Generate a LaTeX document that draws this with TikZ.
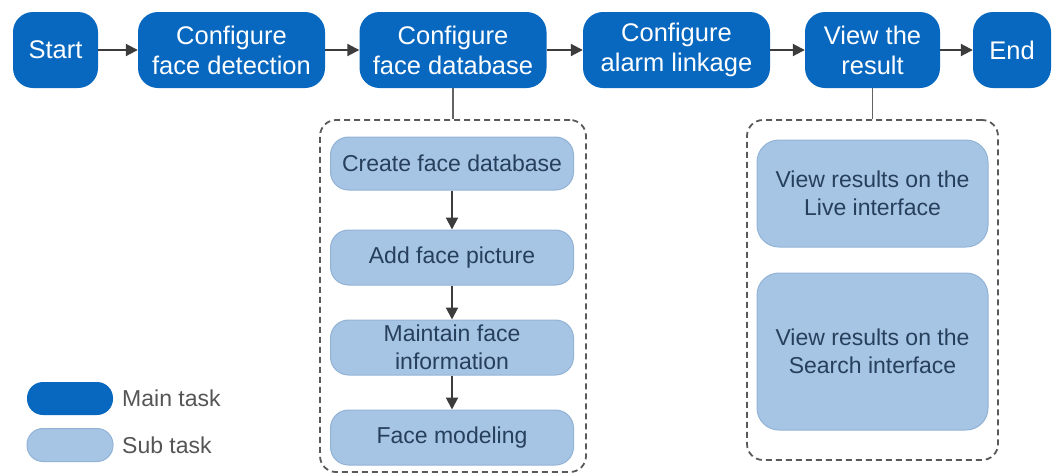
\documentclass[tikz,border=0pt]{standalone}
\usepackage{fontspec}
\setmainfont{Liberation Sans}
\usetikzlibrary{arrows.meta}
\definecolor{mainblue}{HTML}{0868C0}
\definecolor{subblue}{HTML}{A6C4E3}
\definecolor{subedge}{HTML}{93B3D6}
\definecolor{subtext}{HTML}{263F5C}
\definecolor{arr}{HTML}{3C3C3C}
\definecolor{legtext}{HTML}{555555}
\begin{document}
\begin{tikzpicture}[x=1pt,y=-1pt,
  mainbox/.style={fill=mainblue, rounded corners=20pt, text=white, align=center, inner sep=0pt,
    minimum height=76pt, font=\fontsize{25.5}{30}\selectfont},
  subbox/.style={fill=subblue, draw=subedge, line width=1pt, rounded corners=18pt, text=subtext,
    align=center, inner sep=0pt, minimum width=243pt, font=\fontsize{23}{28}\selectfont},
  rsubbox/.style={subbox, minimum width=231pt, rounded corners=22pt},
  conn/.style={draw=arr, line width=2pt, -{Triangle[length=12pt,width=12pt]}},
  link/.style={draw=arr!80, line width=1.8pt},
  groupbox/.style={draw=arr!85, dashed, dash pattern=on 6pt off 4pt, line width=1.8pt, rounded corners=16pt, inner sep=0pt},
  legbox/.style={rounded corners=16pt, inner sep=0pt, minimum width=86pt},
  legtxt/.style={text=legtext, anchor=west, inner sep=0pt, font=\fontsize{23}{27}\selectfont}
]
\useasboundingbox (0,0) rectangle (1056,475);

% main flow
\node[mainbox, minimum width=85pt]  (start) at (55.5,50)  {Start};
\node[mainbox, minimum width=187pt] (cfd)   at (231.5,50) {Configure\\face detection};
\node[mainbox, minimum width=187pt] (cdb)   at (453,50)   {Configure\\face database};
\node[mainbox, minimum width=187pt] (cal)   at (676.5,50) {Configure\\alarm linkage};
\node[mainbox, minimum width=135pt] (vr)    at (872.5,50) {View the\\result};
\node[mainbox, minimum width=78pt]  (end)   at (1012,50)  {End};

\draw[conn] (start) -- (cfd);
\draw[conn] (cfd) -- (cdb);
\draw[conn] (cdb) -- (cal);
\draw[conn] (cal) -- (vr);
\draw[conn] (vr) -- (end);

% left group
\node[groupbox, minimum width=266pt, minimum height=352pt] (g1) at (453,296) {};
\draw[link] (cdb.south) -- (cdb.south |- g1.north);

\node[subbox, minimum height=53pt] (s1) at (452,163.5) {Create face database};
\node[subbox, minimum height=55pt] (s2) at (452,257.5) {Add face picture};
\node[subbox, minimum height=55pt] (s3) at (452,347.5) {Maintain face\\information};
\node[subbox, minimum height=55pt] (s4) at (452,437.5) {Face modeling};
\draw[conn] (s1) -- (s2);
\draw[conn] (s2) -- (s3);
\draw[conn] (s3) -- (s4);

% right group
\node[groupbox, minimum width=251pt, minimum height=340pt] (g2) at (872.5,290) {};
\draw[link] (vr.south) -- (vr.south |- g2.north);
\node[rsubbox, minimum height=107pt] (r1) at (872.5,193.5) {View results on the\\Live interface};
\node[rsubbox, minimum height=157pt] (r2) at (872.5,351.5) {View results on the\\Search interface};

% legend
\node[legbox, fill=mainblue, minimum height=33pt] (lm) at (70,398.5) {};
\node[legtxt] (lmt) at (122,398.5) {Main task};
\node[legbox, fill=subblue, draw=subedge, line width=1pt, minimum height=33pt] (ls) at (70,445) {};
\node[legtxt] (lst) at (122,445) {Sub task};
\end{tikzpicture}
\end{document}
